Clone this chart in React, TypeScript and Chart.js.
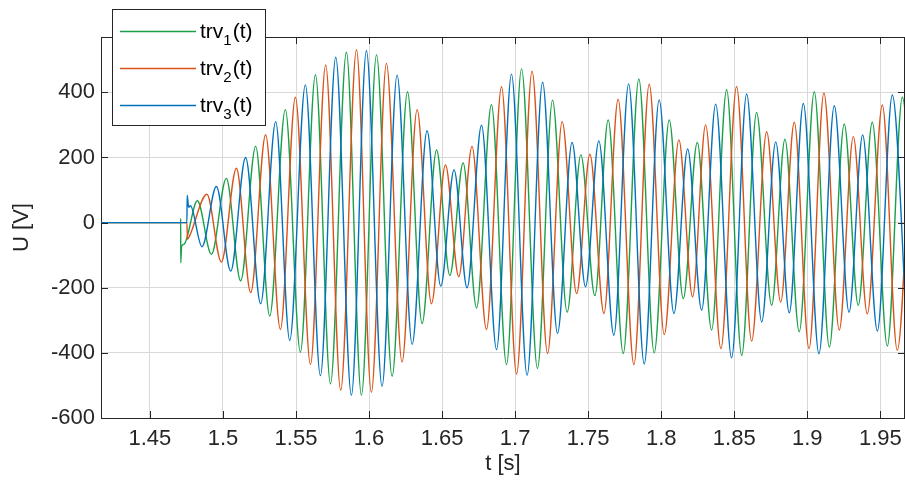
import React, { useEffect, useRef } from 'react';
import { Chart, registerables } from 'chart.js';

Chart.register(...registerables);

// ---- axis limits & ticks ----
const X_MIN = 1.4165;
const X_MAX = 1.9669;
const Y_MIN = -600;
const Y_MAX = 570;
const X_TICKS = [1.45, 1.5, 1.55, 1.6, 1.65, 1.7, 1.75, 1.8, 1.85, 1.9, 1.95];
const Y_TICKS = [-600, -400, -200, 0, 200, 400];

// ---- series (time [s], voltage [V]) : extrema ----
const trv1T = [1.41, 1.471, 1.47105, 1.4711, 1.4717, 1.4734, 1.4825, 1.4921, 1.5023, 1.5121, 1.5224, 1.532, 1.5427, 1.553, 1.5633, 1.5736, 1.5845, 1.5948, 1.6051, 1.6158, 1.6263, 1.6363, 1.6462, 1.6553, 1.6644, 1.6736, 1.6838, 1.6941, 1.7044, 1.7153, 1.7256, 1.7356, 1.745, 1.7546, 1.7637, 1.774, 1.7847, 1.7952, 1.8055, 1.8151, 1.8247, 1.8345, 1.8448, 1.8551, 1.8653, 1.8756, 1.8847, 1.8945, 1.9048, 1.9151, 1.9253, 1.9349, 1.9445, 1.9548, 1.9651, 1.9751];
const trv1V = [0, 0, 12, -123, -72, -66, 67, -97, 136, -179, 234, -287, 347, -398, 454, -495, 523, -530, 515, -472, 402, -310, 223, -162, 183, -262, 362, -436, 472, -448, 376, -275, 208, -224, 315, -402, 441, -400, 315, -233, 246, -330, 408, -408, 338, -254, 256, -335, 402, -382, 303, -254, 308, -379, 385, -340];

const trv2T = [1.41, 1.4753, 1.4757, 1.4772, 1.489, 1.4989, 1.5092, 1.519, 1.5292, 1.5393, 1.5496, 1.5599, 1.5703, 1.5806, 1.5914, 1.6016, 1.6119, 1.6226, 1.6329, 1.6427, 1.6523, 1.6614, 1.6705, 1.6804, 1.6907, 1.701, 1.7116, 1.7222, 1.7322, 1.7421, 1.7512, 1.7608, 1.7705, 1.7813, 1.7918, 1.8021, 1.8121, 1.8215, 1.8304, 1.8409, 1.8516, 1.8619, 1.8722, 1.8818, 1.8911, 1.9012, 1.9114, 1.9219, 1.9315, 1.9411, 1.9514, 1.9616, 1.9717];
const trv2V = [0, 0, -51, -40, 87, -121, 167, -215, 270, -328, 385, -436, 484, -515, 531, -521, 489, -428, 347, -249, 177, -166, 234, -328, 417, -465, 465, -402, 310, -218, 210, -279, 379, -436, 425, -344, 254, -228, 300, -387, 418, -364, 279, -244, 308, -387, 398, -330, 264, -280, 361, -392, 380];

const trv3T = [1.41, 1.4753, 1.4755, 1.4765, 1.4777, 1.4856, 1.4955, 1.5053, 1.5155, 1.5258, 1.5361, 1.5457, 1.5564, 1.5667, 1.5772, 1.5879, 1.5982, 1.6089, 1.6192, 1.6295, 1.6397, 1.6491, 1.6582, 1.6671, 1.677, 1.6873, 1.6975, 1.7082, 1.7188, 1.729, 1.739, 1.7482, 1.7573, 1.7676, 1.7777, 1.7884, 1.7986, 1.8087, 1.8181, 1.8277, 1.8373, 1.8482, 1.8585, 1.8688, 1.8784, 1.8877, 1.8973, 1.908, 1.9185, 1.9286, 1.9379, 1.948, 1.9582, 1.9683];
const trv3V = [0, 0, 84, 47, 52, -74, 111, -149, 200, -249, 310, -362, 423, -470, 508, -530, 528, -503, 453, -374, 282, -195, 162, -200, 299, -390, 456, -469, 431, -340, 246, -197, 251, -346, 426, -434, 377, -279, 226, -269, 364, -415, 395, -305, 248, -277, 366, -403, 359, -275, 269, -333, 392, -340];

const SERIES_NAMES = ['trv', 'trv', 'trv'];
const SERIES_SUBS = ['1', '2', '3'];
const SERIES_COLORS = ['#1AA048', '#D95319', '#0072BD'];

const FONT = '"Liberation Sans", Arial, Helvetica, sans-serif';
const AXIS_COLOR = '#262626';

const toPoints = (t: number[], v: number[]) => t.map((x, i) => ({ x, y: v[i] }));

const framePlugin = {
  id: 'matlabFrame',
  afterDraw(chart: any) {
    const { ctx, chartArea } = chart;
    const { left, right, top, bottom } = chartArea;
    const xs = chart.scales.x;
    const ys = chart.scales.y;
    ctx.save();
    ctx.strokeStyle = AXIS_COLOR;
    ctx.lineWidth = 1;
    ctx.beginPath();
    ctx.moveTo(left, Math.round(top) + 0.5);
    ctx.lineTo(right, Math.round(top) + 0.5);
    ctx.moveTo(Math.round(right) - 0.5, top);
    ctx.lineTo(Math.round(right) - 0.5, bottom);
    const tl = 7;
    X_TICKS.forEach((v) => {
      const px = Math.round(xs.getPixelForValue(v)) + 0.5;
      ctx.moveTo(px, bottom);
      ctx.lineTo(px, bottom - tl);
      ctx.moveTo(px, top);
      ctx.lineTo(px, top + tl);
    });
    Y_TICKS.forEach((v) => {
      const py = Math.round(ys.getPixelForValue(v)) + 0.5;
      ctx.moveTo(left, py);
      ctx.lineTo(left + tl, py);
      ctx.moveTo(right, py);
      ctx.lineTo(right - tl, py);
    });
    ctx.stroke();

    // legend box
    const bx = 112.5, by = 9.5, bw = 153, bh = 116;
    ctx.fillStyle = '#FFFFFF';
    ctx.fillRect(bx, by, bw, bh);
    ctx.strokeStyle = AXIS_COLOR;
    ctx.strokeRect(bx, by, bw, bh);
    SERIES_NAMES.forEach((name, i) => {
      const y = 31 + i * 37;
      ctx.strokeStyle = SERIES_COLORS[i];
      ctx.lineWidth = 1.3;
      ctx.beginPath();
      ctx.moveTo(120, y + 0.5);
      ctx.lineTo(196, y + 0.5);
      ctx.stroke();
      ctx.fillStyle = '#000000';
      ctx.textBaseline = 'alphabetic';
      ctx.textAlign = 'left';
      ctx.font = `21px ${FONT}`;
      let x = 200;
      ctx.fillText(name, x, y + 7);
      x += ctx.measureText(name).width;
      ctx.font = `15px ${FONT}`;
      ctx.fillText(SERIES_SUBS[i], x, y + 14);
      x += ctx.measureText(SERIES_SUBS[i]).width + 1;
      ctx.font = `21px ${FONT}`;
      ctx.fillText('(t)', x, y + 7);
    });
    ctx.restore();
  },
};

export default function App() {
  const canvasRef = useRef<HTMLCanvasElement | null>(null);

  useEffect(() => {
    document.body.style.margin = '0';
    const canvas = canvasRef.current;
    if (!canvas) return;
    const series = [
      { t: trv1T, v: trv1V, order: 2 },
      { t: trv2T, v: trv2V, order: 1 },
      { t: trv3T, v: trv3V, order: 0 },
    ];
    const chart = new Chart(canvas, {
      type: 'line',
      data: {
        datasets: series.map((s, i) => ({
          label: SERIES_NAMES[i] + SERIES_SUBS[i] + '(t)',
          data: toPoints(s.t, s.v),
          borderColor: SERIES_COLORS[i],
          backgroundColor: SERIES_COLORS[i],
          borderWidth: 1.4,
          pointRadius: 0,
          fill: false,
          cubicInterpolationMode: 'monotone',
          order: s.order,
        })),
      },
      options: {
        responsive: false,
        animation: false,
        devicePixelRatio: 1,
        layout: { padding: { top: 37, right: 0, left: 0, bottom: 0 } },
        plugins: {
          legend: { display: false },
          tooltip: { enabled: false },
          title: { display: false },
        },
        scales: {
          x: {
            type: 'linear',
            min: X_MIN,
            max: X_MAX,
            afterBuildTicks: (scale: any) => {
              scale.ticks = X_TICKS.map((value) => ({ value }));
            },
            afterFit: (scale: any) => {
              scale.height = 75;
              scale.paddingLeft = 0;
              scale.paddingRight = 0;
            },
            grid: { color: '#D9D9D9', lineWidth: 1, drawTicks: false },
            border: { display: true, color: AXIS_COLOR, width: 1 },
            ticks: {
              color: AXIS_COLOR,
              font: { family: FONT, size: 22 },
              padding: 8,
              maxRotation: 0,
              autoSkip: false,
              callback: (value: any) => String(value),
            },
            title: {
              display: true,
              text: 't [s]',
              color: AXIS_COLOR,
              font: { family: FONT, size: 22 },
              padding: { top: 0, bottom: 16 },
            },
          },
          y: {
            type: 'linear',
            min: Y_MIN,
            max: Y_MAX,
            afterBuildTicks: (scale: any) => {
              scale.ticks = Y_TICKS.map((value) => ({ value }));
            },
            afterFit: (scale: any) => {
              scale.width = 101;
              scale.paddingTop = 0;
              scale.paddingBottom = 0;
            },
            grid: { color: '#D9D9D9', lineWidth: 1, drawTicks: false },
            border: { display: true, color: AXIS_COLOR, width: 1 },
            ticks: {
              color: AXIS_COLOR,
              font: { family: FONT, size: 22 },
              padding: 6,
              autoSkip: false,
              callback: (value: any) => String(value),
            },
            title: {
              display: true,
              text: 'U [V]',
              color: AXIS_COLOR,
              font: { family: FONT, size: 22 },
              padding: { top: 9, bottom: 0 },
            },
          },
        },
      },
      plugins: [framePlugin],
    } as any);
    return () => chart.destroy();
  }, []);

  return (
    <div style={{ width: 905, height: 493, position: 'relative', background: '#fff' }}>
      <canvas ref={canvasRef} width={905} height={493} style={{ display: 'block', width: 905, height: 493 }} />
    </div>
  );
}
